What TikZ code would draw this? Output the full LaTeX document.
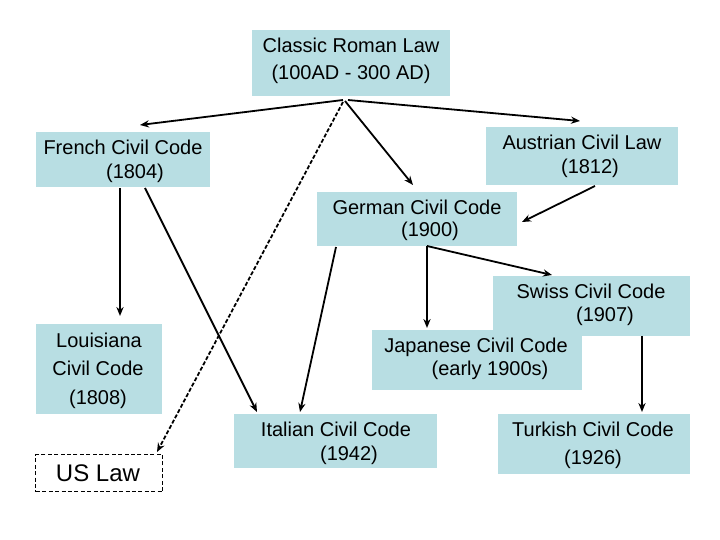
\documentclass[tikz,border=0pt]{standalone}
\usepackage{fontspec}
\setmainfont{Liberation Sans}
\usetikzlibrary{arrows.meta,calc}
\definecolor{boxblue}{RGB}{184,222,227}
\begin{document}
\begin{tikzpicture}[x=0.5pt,y=-0.5pt,
  box/.style={fill=boxblue,inner sep=0pt,outer sep=0pt},
  usbox/.style={draw=black,line width=0.5pt,dash pattern=on 2pt off 1.2pt,fill=white,inner sep=0pt,outer sep=0pt},
  lbl/.style={font=\fontsize{10pt}{12pt}\selectfont,inner sep=0pt,anchor=base},
  biglbl/.style={lbl,font=\fontsize{12pt}{14pt}\selectfont},
  arr/.style={line width=0.9pt,-{Stealth[length=4.5pt,width=3.6pt]}},
  darr/.style={arr,dash pattern=on 2pt off 1pt}]
\useasboundingbox (0,0) rectangle (720,540);
\fill[white] (0,0) rectangle (720,540);

% boxes
\node[box,minimum width=99pt,minimum height=33pt] (rom) at (351,63) {};
\node[box,minimum width=87pt,minimum height=27.5pt] (fre) at (123,159.5) {};
\node[box,minimum width=96pt,minimum height=29pt] (aus) at (582,156) {};
\node[box,minimum width=100pt,minimum height=27pt] (ger) at (417,219) {};
\node[box,minimum width=98.5pt,minimum height=30pt] (swi) at (591.5,306) {};
\node[box,minimum width=105pt,minimum height=30pt] (jap) at (477,360) {};
\node[box,minimum width=63pt,minimum height=45pt] (lou) at (99,369) {};
\node[usbox,minimum width=63.5pt,minimum height=18.5pt] (us) at (99.5,473.5) {};
\node[box,minimum width=101.5pt,minimum height=27pt] (ita) at (335.5,441) {};
\node[box,minimum width=96pt,minimum height=30pt] (tur) at (594,444) {};

% texts
\node[lbl] (romA) at (351,53) {Classic Roman Law};
\node[lbl] (romB) at (351,80) {(100AD - 300 AD)};
\node[lbl] (freA) at (123,155) {French Civil Code};
\node[lbl] (freB) at (135,179) {(1804)};
\node[lbl] (ausA) at (582,150) {Austrian Civil Law};
\node[lbl] (ausB) at (590,174) {(1812)};
\node[lbl] (gerA) at (417,215) {German Civil Code};
\node[lbl] (gerB) at (430,237) {(1900)};
\node[lbl] (swiA) at (591,299) {Swiss Civil Code};
\node[lbl] (swiB) at (605,322) {(1907)};
\node[lbl] (japA) at (476,353) {Japanese Civil Code};
\node[lbl] (japB) at (490,376) {(early 1900s)};
\node[lbl] (louA) at (99,348) {Louisiana};
\node[lbl] (louB) at (98,376) {Civil Code};
\node[lbl] (louC) at (98,405) {(1808)};
\node[biglbl] (usA) at (98,482) {US Law};
\node[lbl] (itaA) at (336,437) {Italian Civil Code};
\node[lbl] (itaB) at (349,461) {(1942)};
\node[lbl] (turA) at (593,437) {Turkish Civil Code};
\node[lbl] (turB) at (593,465) {(1926)};

% connectors
\draw[arr] ($(rom.south)+(-8,4)$) -- ($(fre.north)+(17,-7)$);
\draw[arr] ($(rom.south)+(-3,4)$) -- ($(aus.north)+(-2,-6)$);
\draw[arr] ($(rom.south)+(-6,5)$) -- ($(ger.north)+(-4,-7)$);
\draw[darr] ($(rom.south)+(-8,6)$) -- ($(us.north east)+(-6,-3)$);
\draw[arr] ($(aus.south)+(13,1)$) -- ($(ger.east)+(5,3)$);
\draw[arr] ($(fre.south)+(-3,1)$) -- ($(lou.north)+(21,-8)$);
\draw[arr] ($(fre.south)+(22,1)$) -- ($(ita.north west)+(23,-2)$);
\draw[arr] ($(ger.south west)+(19,1)$) -- ($(ita.north west)+(66,-2)$);
\draw[arr] ($(ger.south)+(10,0)$) -- ($(jap.north)+(-50,-2)$);
\draw[arr] ($(ger.south)+(10,0)$) -- ($(swi.north west)+(59,-1)$);
\draw[arr] ($(swi.south)+(50.5,0)$) -- ($(tur.north)+(48,-2)$);
\end{tikzpicture}
\end{document}
